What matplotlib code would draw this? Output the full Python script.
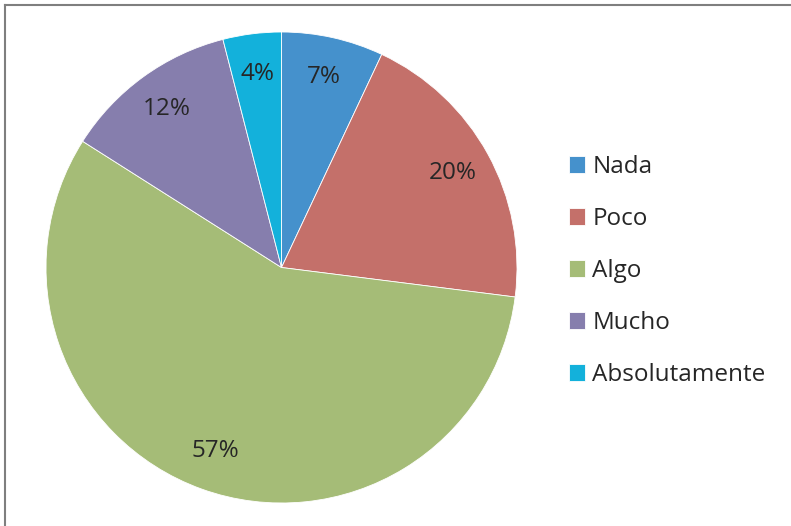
import matplotlib.pyplot as plt
from matplotlib.lines import Line2D

# data
categories = ["Nada", "Poco", "Algo", "Mucho", "Absolutamente"]
percentages = [7, 20, 57, 12, 4]
colors = ["#4591CC", "#C4706A", "#A5BC77", "#867EAD", "#13B1DB"]

W, H = 791, 526
fig = plt.figure(figsize=(W / 100, H / 100), dpi=100)
plt.rcParams['font.family'] = ['Open Sans', 'DejaVu Sans']

# pie centre and radius in pixels
cx, cy, r = 281.5, 267.5, 235.5
ax = fig.add_axes([(cx - r) / W, (H - cy - r) / H, 2 * r / W, 2 * r / H])

wedges, texts, autotexts = ax.pie(
    percentages, colors=colors, startangle=90, counterclock=False,
    autopct=lambda p: f"{p:.0f}%", pctdistance=0.83,
    wedgeprops=dict(edgecolor="white", linewidth=0.6),
    textprops=dict(fontsize=17.5, color="#262626"))
ax.set_xlim(-1, 1)
ax.set_ylim(-1, 1)

fig.legend(wedges, categories, loc="center left",
           bbox_to_anchor=(569 / W, 1 - 271 / H), frameon=False,
           fontsize=17.5, labelcolor="#262626",
           handlelength=0.66, handleheight=0.66, handletextpad=0.3,
           labelspacing=1.15, borderpad=0, borderaxespad=0)

# outer frame (only left and top visible)
lc = "#7f7f7f"
fig.add_artist(Line2D([4.5 / W, 4.5 / W], [0, 1 - 5 / H], color=lc, lw=1.5,
                      transform=fig.transFigure))
fig.add_artist(Line2D([4.5 / W, 1], [1 - 5 / H, 1 - 5 / H], color=lc, lw=1.5,
                      transform=fig.transFigure))

fig.savefig("out.png", dpi=100)
